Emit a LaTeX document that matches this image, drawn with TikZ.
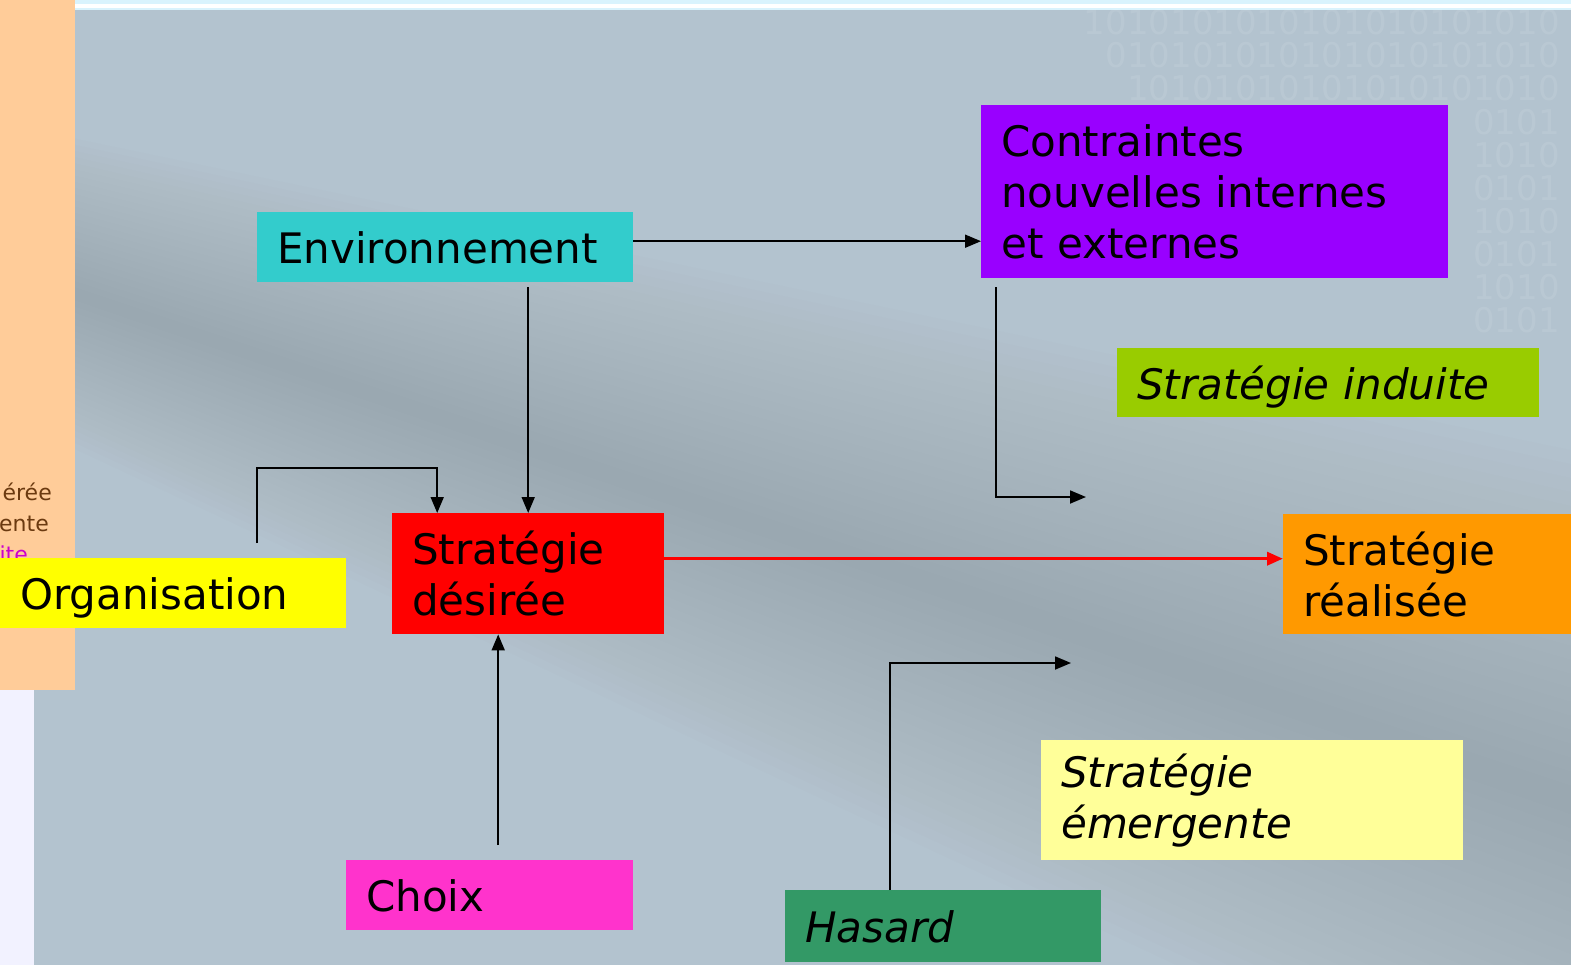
\documentclass[tikz,border=0pt]{standalone}
\usepackage{fontspec}
\setmainfont{DejaVu Sans}
\usetikzlibrary{arrows.meta,positioning}

\definecolor{bgLight}{HTML}{B3C3CF}
\definecolor{bgDark}{HTML}{5E6A70}
\definecolor{peach}{HTML}{FFCC99}
\definecolor{envCyan}{HTML}{33CCCC}
\definecolor{contrPurple}{HTML}{9900FF}
\definecolor{indGreen}{HTML}{99CC00}
\definecolor{desRed}{HTML}{FF0000}
\definecolor{realOrange}{HTML}{FF9900}
\definecolor{orgYellow}{HTML}{FFFF00}
\definecolor{choixPink}{HTML}{FF33CC}
\definecolor{hasGreen}{HTML}{339966}
\definecolor{emLight}{HTML}{FFFF99}
\definecolor{fragBrown}{HTML}{6B3A10}
\definecolor{fragPink}{HTML}{CC00CC}

\begin{document}
\begin{tikzpicture}[x=1pt,y=-1pt,
  box/.style={rectangle,anchor=north west,inner xsep=20pt,inner ysep=0pt,align=left,
    font=\fontsize{42}{51}\selectfont},
  boxit/.style={box,font=\fontsize{42}{51}\selectfont\itshape},
  oneline/.style={text depth=0pt},
  frag/.style={anchor=base east,inner sep=0pt,font=\fontsize{22}{26}\selectfont},
  bits/.style={anchor=east,inner sep=0pt,text=white,text opacity=0.09,font=\fontsize{34}{34}\selectfont},
  >={Triangle[length=16pt,width=13pt]},
  link/.style={->,line width=1.8pt}]
\useasboundingbox (0,0) rectangle (1571,965);
\clip (0,0) rectangle (1571,965);
% background
\fill[white!95!blue] (0,0) rectangle (1571,965);
\fill[bgLight] (34,10) rectangle (1571,965);
\foreach \k in {1,...,25}
  \fill[bgDark,opacity=0.013] (34,280-6*\k) -- (1571,800-14*\k) -- (1571,800+14*\k) -- (34,280+6*\k) -- cycle;
\fill[white!85!cyan] (75,0) rectangle (1571,10);
\fill[white] (75,4) rectangle (1571,8);
\foreach \y/\s in {22/1010101010101010101010,55/010101010101010101010,88/10101010101010101010,
  122/0101,155/1010,188/0101,221/1010,254/0101,287/1010,320/0101}
  \node[bits] at (1560,\y) {\s};
% left column
\fill[peach] (0,0) rectangle (75,690);
\node[frag,text=fragBrown] (fragA) at (52,500) {érée};
\node[frag,text=fragBrown] (fragB) at (49,531) {ente};
\node[frag,text=fragPink] (fragC) at (28,562) {ite};

% boxes
\node[box,oneline,fill=envCyan,text width=336pt,minimum height=70pt] (env) at (257,212) {Environnement};
\node[box,fill=contrPurple,text width=427pt,minimum height=173pt] (contr) at (981,105) {Contraintes\\nouvelles internes\\et externes};
\node[boxit,oneline,fill=indGreen,text width=382pt,minimum height=69pt] (induite) at (1117,348) {Stratégie induite};
\node[box,fill=desRed,text width=232pt,minimum height=121pt] (desiree) at (392,513) {Stratégie\\désirée};
\node[box,fill=realOrange,text width=248pt,minimum height=120pt] (realisee) at (1283,514) {Stratégie\\réalisée};
\node[box,oneline,fill=orgYellow,text width=306pt,minimum height=70pt] (org) at (0,558) {Organisation};
\node[box,oneline,fill=choixPink,text width=247pt,minimum height=70pt] (choix) at (346,860) {Choix};
\node[boxit,oneline,fill=hasGreen,text width=276pt,minimum height=72pt] (hasard) at (785,890) {Hasard};
\node[boxit,fill=emLight,text width=382pt,minimum height=120pt] (emerg) at (1041,740) {Stratégie\\émergente};

\coordinate (indin) at (1086,497);
\coordinate (emin) at (1071,663);

% connectors
\draw[link] ([yshift=6pt]env.east) -- ([yshift=6pt]env.east -| contr.west);
\draw[link] ([yshift=-5pt]env.south -| desiree.north) -- (desiree.north);
\draw[link] ([xshift=84pt,yshift=15pt]org.north) -- ++(0,-75) -| ([xshift=-91pt]desiree.north);
\draw[link] ([xshift=8.5pt,yshift=15pt]choix.north) -- ([xshift=8.5pt]choix.north |- desiree.south);
\draw[link] ([xshift=15pt,yshift=-9pt]contr.south west) |- (indin);
\draw[link] ([xshift=-53pt]hasard.north) |- (emin);
\draw[link,red,line width=3.5pt] ([yshift=15pt]desiree.east) -- ([yshift=15pt]desiree.east -| realisee.west);
\end{tikzpicture}
\end{document}
